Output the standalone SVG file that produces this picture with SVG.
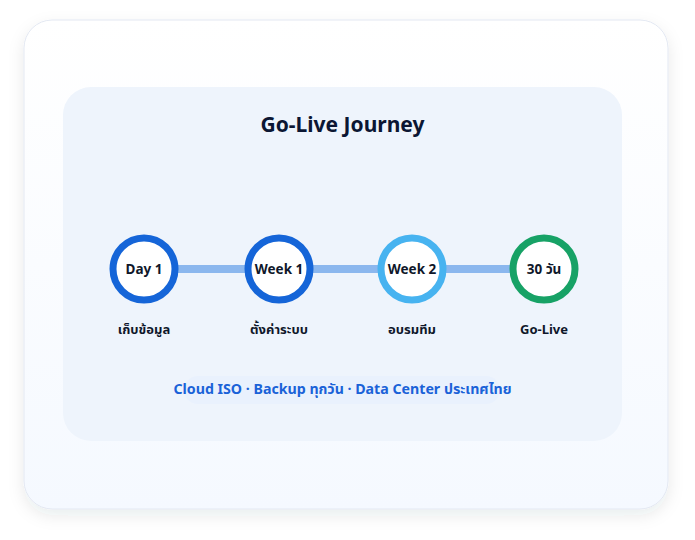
<svg xmlns="http://www.w3.org/2000/svg" width="695" height="540" viewBox="0 0 695 540">
<defs>
<linearGradient id="cardG" x1="0" y1="0" x2="0" y2="1">
<stop offset="0" stop-color="#ffffff"/>
<stop offset="1" stop-color="#f5f9ff"/>
</linearGradient>
<filter id="sh" x="-10%" y="-10%" width="120%" height="125%">
<feDropShadow dx="0" dy="6" stdDeviation="8" flood-color="#1e293b" flood-opacity="0.09"/>
</filter>
</defs>
<style>
text{font-family:"Noto Sans","Noto Sans Thai","DejaVu Sans",sans-serif;font-weight:700;text-anchor:middle}
.ring{fill:#ffffff;stroke-width:7}
.in{font-size:13.5px;fill:#0f172a}
.lab{font-size:13px;fill:#0f172a}
.conn{stroke:#8bb7ee;stroke-width:8}
</style>
<rect x="0" y="0" width="695" height="540" fill="#ffffff"/>
<rect x="24" y="20" width="644" height="489" rx="28" fill="url(#cardG)" stroke="#e3e8f2" stroke-width="1" filter="url(#sh)"/>
<rect x="63" y="87" width="559" height="354" rx="28" fill="#eef4fc"/>
<text x="342.5" y="132" style="font-size:21px;fill:#0b1633">Go-Live Journey</text>
<g id="connectors">
<line class="conn" x1="176" y1="269" x2="247" y2="269"/>
<line class="conn" x1="311" y1="269" x2="380" y2="269"/>
<line class="conn" x1="444" y1="269" x2="512" y2="269"/>
</g>
<g id="n1">
<circle class="ring" cx="144" cy="269" r="31" stroke="#1565d8"/>
<text class="in" x="144" y="274">Day 1</text>
<text class="lab" x="144" y="334">เก็บข้อมูล</text>
</g>
<g id="n2">
<circle class="ring" cx="279" cy="269" r="31" stroke="#1565d8"/>
<text class="in" x="279" y="274">Week 1</text>
<text class="lab" x="279" y="334">ตั้งค่าระบบ</text>
</g>
<g id="n3">
<circle class="ring" cx="412" cy="269" r="31" stroke="#47b3f0"/>
<text class="in" x="412" y="274">Week 2</text>
<text class="lab" x="412" y="334">อบรมทีม</text>
</g>
<g id="n4">
<circle class="ring" cx="544" cy="269" r="31" stroke="#17a266"/>
<text class="in" x="544" y="274">30 วัน</text>
<text class="lab" x="544" y="334">Go-Live</text>
</g>
<rect x="184" y="376" width="316" height="28" rx="14" fill="#e9f1fd"/>
<text x="342.5" y="394" style="font-size:14.2px;fill:#1a62d8">Cloud ISO · Backup ทุกวัน · Data Center ประเทศไทย</text>
</svg>
